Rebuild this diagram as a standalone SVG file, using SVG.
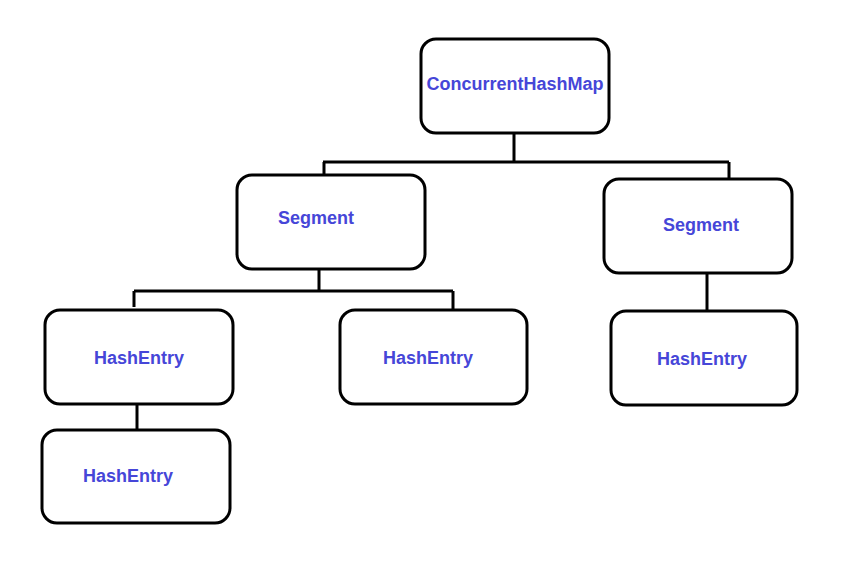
<svg xmlns="http://www.w3.org/2000/svg" width="846" height="563" viewBox="0 0 846 563">
<style>
.box{fill:#fff;stroke:#000;stroke-width:3}
.lbl{font-family:"Liberation Sans",Arial,sans-serif;font-weight:bold;font-size:18px;fill:#4646d8;text-anchor:middle}
.con{fill:none;stroke:#000;stroke-width:3}
</style>
<rect width="846" height="563" fill="#fff"/>
<g id="connectors">
<path class="con" d="M514 133 V162 M323 162 H729 M324 162 V175 M729 162 V179"/>
<path class="con" d="M319 269 V292 M134 291 H453 M134 291 V307 M453 291 V310"/>
<path class="con" d="M707 273 V316"/>
<path class="con" d="M137 404 V430"/>
</g>
<g id="chm"><rect class="box" x="421" y="39" width="188" height="94" rx="15"/><text class="lbl" x="515" y="90">ConcurrentHashMap</text></g>
<g id="seg1"><rect class="box" x="237" y="175" width="188" height="94" rx="15"/><text class="lbl" x="316" y="224">Segment</text></g>
<g id="seg2"><rect class="box" x="604" y="179" width="188" height="94" rx="15"/><text class="lbl" x="701" y="231">Segment</text></g>
<g id="he1"><rect class="box" x="45" y="310" width="188" height="94" rx="15"/><text class="lbl" x="139" y="364">HashEntry</text></g>
<g id="he2"><rect class="box" x="340" y="310" width="187" height="94" rx="15"/><text class="lbl" x="428" y="364">HashEntry</text></g>
<g id="he3"><rect class="box" x="611" y="311" width="186" height="94" rx="15"/><text class="lbl" x="702" y="365">HashEntry</text></g>
<g id="he4"><rect class="box" x="42" y="430" width="188" height="93" rx="15"/><text class="lbl" x="128" y="482">HashEntry</text></g>
</svg>
